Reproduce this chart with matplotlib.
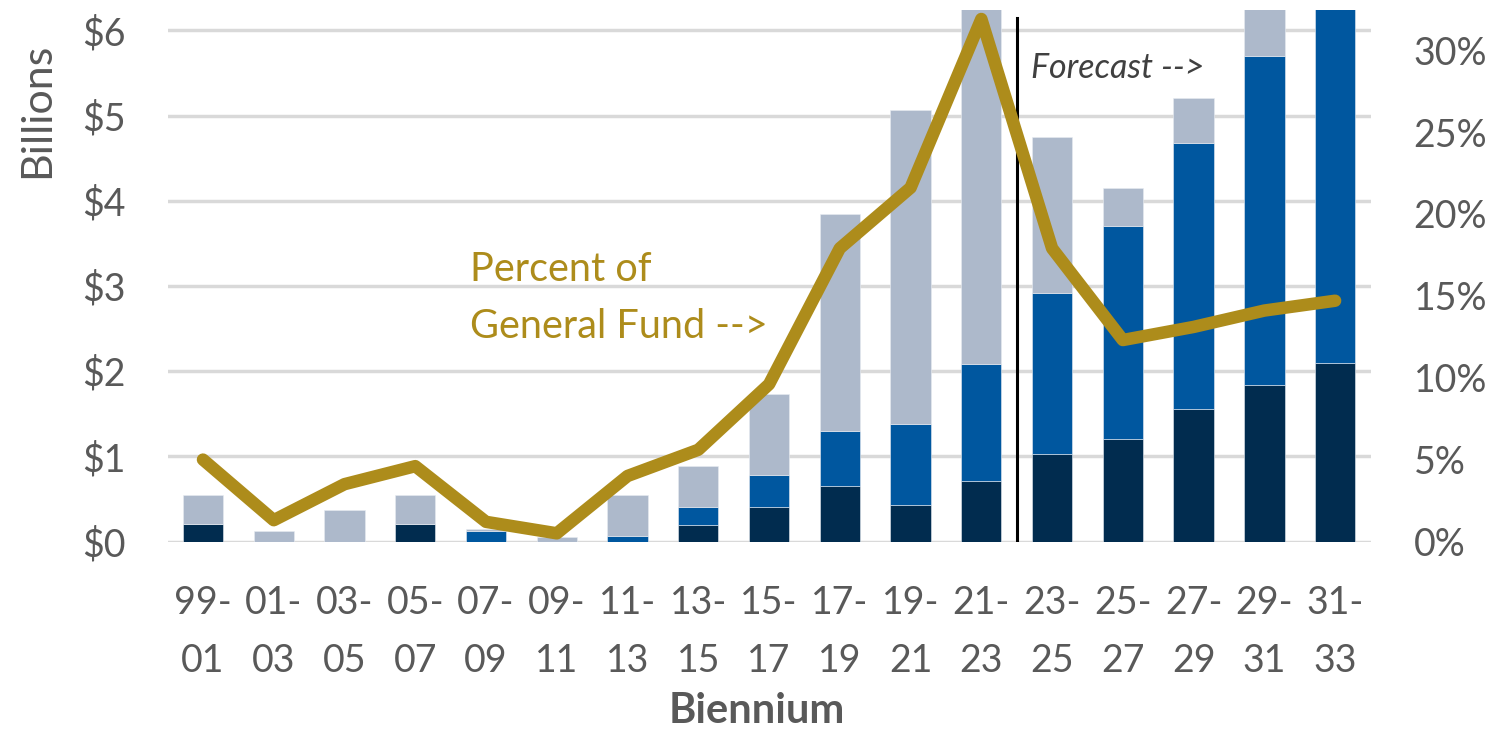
import numpy as np
import matplotlib.pyplot as plt

plt.rcParams["font.family"] = ["Lato", "DejaVu Sans"]

# ── data ──────────────────────────────────────
biennium = ["99-\n01", "01-\n03", "03-\n05", "05-\n07", "07-\n09", "09-\n11",
            "11-\n13", "13-\n15", "15-\n17", "17-\n19", "19-\n21", "21-\n23",
            "23-\n25", "25-\n27", "27-\n29", "29-\n31", "31-\n33"]

# stacked segments, $ billions
seg_dark  = [0.20, 0.00, 0.00, 0.20, 0.00, 0.00, 0.00, 0.19, 0.40, 0.65, 0.43, 0.71,
             1.03, 1.20, 1.56, 1.84, 2.09]
seg_blue  = [0.00, 0.00, 0.00, 0.00, 0.12, 0.00, 0.07, 0.21, 0.38, 0.65, 0.95, 1.37,
             1.89, 2.50, 3.12, 3.86, 4.60]
seg_light = [0.35, 0.12, 0.37, 0.35, 0.03, 0.05, 0.48, 0.49, 0.95, 2.54, 3.69, 4.60,
             1.83, 0.45, 0.53, 0.90, 0.50]

# percent of general fund
pct_gf = [5.0, 1.3, 3.5, 4.6, 1.2, 0.5, 4.0, 5.6, 9.6, 17.9, 21.6, 31.9,
          17.9, 12.3, 13.1, 14.1, 14.7]

C_DARK  = "#012C4F"
C_BLUE  = "#00579F"
C_LIGHT = "#ADB9CB"
C_GOLD  = "#AD8C1B"
C_TEXT  = "#595959"

W, H = 1491, 731
x = np.arange(len(biennium))
w = 0.57

fig = plt.figure(figsize=(W / 100, H / 100), dpi=100)
ax = fig.add_axes([167.6 / W, 1 - 541.5 / H, (1370.5 - 167.6) / W, (541.5 - 10) / H])

b1 = np.array(seg_dark)
b2 = b1 + np.array(seg_blue)
ax.bar(x, seg_dark, w, color=C_DARK, edgecolor="#e8ecf2", linewidth=0.4, zorder=2)
ax.bar(x, seg_blue, w, bottom=b1, color=C_BLUE, edgecolor="#e8ecf2", linewidth=0.4, zorder=2)
ax.bar(x, seg_light, w, bottom=b2, color=C_LIGHT, edgecolor="#e8ecf2", linewidth=0.4, zorder=2)

ax.set_xlim(-0.5, len(biennium) - 0.5)
ax.set_ylim(0, 6.24)
ax.set_yticks(range(7))
ax.set_yticklabels([f"${v}" for v in range(7)])
ax.grid(axis="y", color="#D9D9D9", linewidth=2.5, zorder=0)
ax.set_axisbelow(True)
for s in ax.spines.values():
    s.set_visible(False)
ax.tick_params(axis="y", length=0, pad=30, labelsize=27, labelcolor=C_TEXT)
ax.set_xticks(x)
ax.set_xticklabels(biennium, linespacing=1.78)
ax.tick_params(axis="x", length=0, pad=31, labelsize=27, labelcolor=C_TEXT)

# axis titles
fig.text(37 / W, 1 - 110 / H, "Billions", rotation=90, fontsize=31, color=C_TEXT,
         ha="center", va="center")
fig.text(757 / W, 1 - 723 / H, "Biennium", fontsize=30, fontweight="bold",
         color=C_TEXT, ha="center", va="baseline")

# forecast divider
ax.plot([11.5, 11.5], [0, 6.15], color="black", linewidth=2.2, zorder=3)
fig.text(1031 / W, 1 - 78 / H, "Forecast -->", fontsize=24.5, style="italic",
         color="#404040", ha="left", va="baseline")

ax2 = ax.twinx()
ax2.plot(x, pct_gf, color=C_GOLD, linewidth=9, solid_capstyle="round",
         solid_joinstyle="round", zorder=4)
ax2.set_ylim(0, 32.45)
ax2.set_yticks(range(0, 31, 5))
ax2.set_yticklabels([f"{v}%" for v in range(0, 31, 5)])
ax2.tick_params(axis="y", length=0, pad=31, labelsize=27, labelcolor=C_TEXT)
for s in ax2.spines.values():
    s.set_visible(False)

fig.text(470 / W, 1 - 281 / H, "Percent of", fontsize=28.5, color=C_GOLD,
         ha="left", va="baseline")
fig.text(470 / W, 1 - 338 / H, "General Fund -->", fontsize=28.5, color=C_GOLD,
         ha="left", va="baseline")

fig.savefig("out.png", dpi=100)
